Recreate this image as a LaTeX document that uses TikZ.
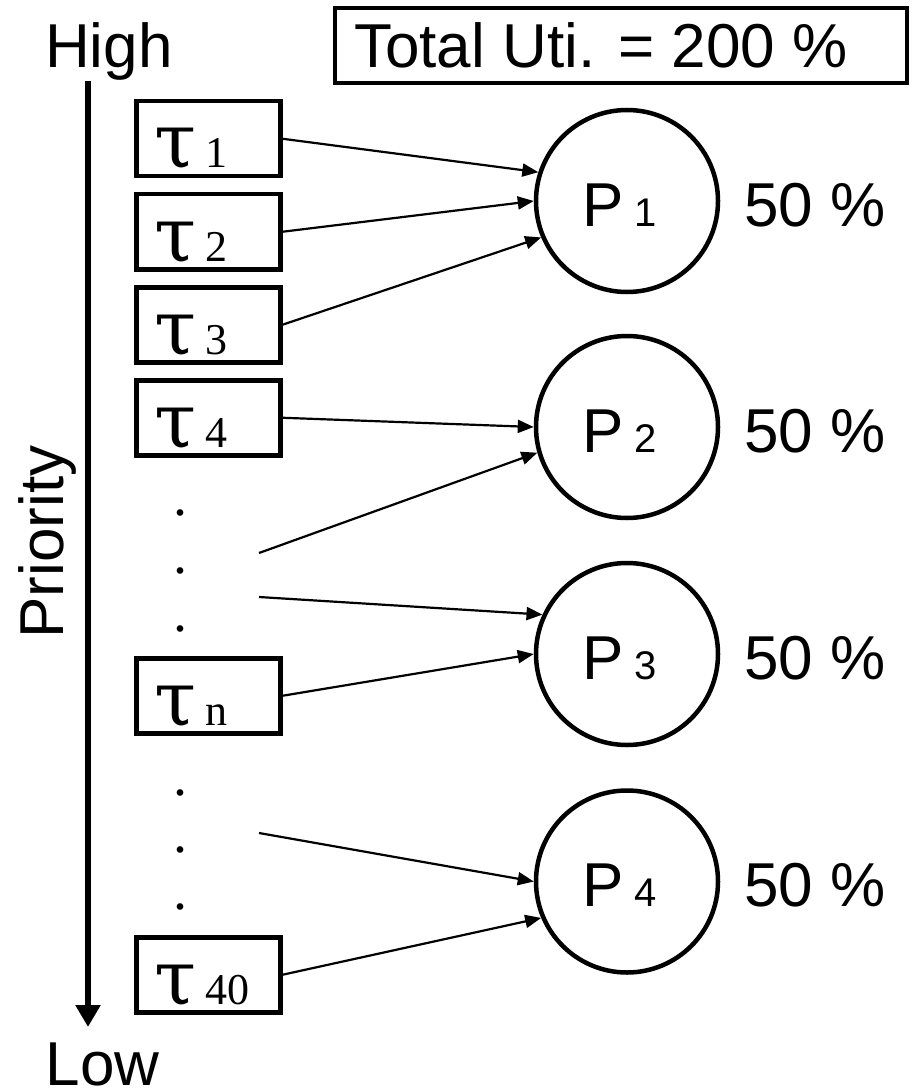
\documentclass[tikz,border=0pt]{standalone}
\usepackage{fontspec}
\setmainfont{Liberation Sans}
\newfontfamily\seriffont{Liberation Serif}
\newfontfamily\taufont{DejaVu Serif}
\usetikzlibrary{arrows.meta}
\begin{document}
\begin{tikzpicture}[x=1pt,y=-1pt,
  big/.style={font=\fontsize{62}{70}\selectfont, inner sep=0pt},
  taskbox/.style={draw, line width=4.5pt, minimum width=144pt, minimum height=75pt, inner sep=0pt, anchor=north west},
  tasklabel/.style={inner sep=0pt, anchor=base west, font=\seriffont},
  proc/.style={draw, circle, line width=4.5pt, minimum size=182pt, inner sep=0pt},
  conn/.style={line width=2.2pt, -{Triangle[length=16pt,width=13pt]}},
  dotmark/.style={inner sep=0pt, anchor=base, font=\seriffont\fontsize{56}{60}\selectfont}
]
\useasboundingbox (0,0) rectangle (913,1091);

% priority axis
\node[big, anchor=base west] (high) at (45,68) {High};
\node[big, anchor=base west, text depth=0pt] (low) at (45.5,1085) {Low};
\node[big, rotate=90, anchor=base] (prio) at (63,542) {Priority};
\coordinate (ptop) at (88,81);
\coordinate (pbot) at (88,1027);
\draw[line width=6.5pt, -{Triangle[length=22pt,width=24pt]}] (ptop) -- (pbot);

% total utilisation
\node[draw, line width=4pt, minimum width=572pt, minimum height=75pt, inner sep=0pt, anchor=north west] (total) at (333,6) {};
\node[big, anchor=base west] (totaltext) at (354,68) {Total Uti. = 200 \%};

% tasks
\newcommand{\tasktext}[1]{\makebox[51pt][l]{\taufont\fontsize{76}{76}\selectfont τ}{\fontsize{44}{48}\selectfont #1}}
\node[taskbox] (t1) at (134,99) {};
\node[taskbox] (t2) at (134,192) {};
\node[taskbox] (t3) at (134,285) {};
\node[taskbox] (t4) at (134,378) {};
\node[taskbox] (tn) at (134,656) {};
\node[taskbox] (t40) at (134,935) {};
\node[tasklabel] (l1) at (154,168) {\tasktext{1}};
\node[tasklabel] (l2) at (154,261) {\tasktext{2}};
\node[tasklabel] (l3) at (154,354) {\tasktext{3}};
\node[tasklabel] (l4) at (154,447) {\tasktext{4}};
\node[tasklabel] (ln) at (154,725) {\tasktext{n}};
\node[tasklabel] (l40) at (154,1004) {\tasktext{40}};

% dots
\node[dotmark] (da) at (180,515) {.};
\node[dotmark] (db) at (180,573) {.};
\node[dotmark] (dc) at (180,631) {.};
\node[dotmark] (dd) at (180,795) {.};
\node[dotmark] (de) at (180,852) {.};
\node[dotmark] (df) at (180,909) {.};

% processors
\node[proc] (P1) at (627,201) {};
\node[proc] (P2) at (627,427) {};
\node[proc] (P3) at (627,654) {};
\node[proc] (P4) at (627,881.5) {};
\node[big, anchor=base west] (P1t) at (582,226) {P{\fontsize{40}{44}\selectfont\ 1}};
\node[big, anchor=base west] (P2t) at (582,452) {P{\fontsize{40}{44}\selectfont\ 2}};
\node[big, anchor=base west] (P3t) at (582,679) {P{\fontsize{40}{44}\selectfont\ 3}};
\node[big, anchor=base west] (P4t) at (582,906.5) {P{\fontsize{40}{44}\selectfont\ 4}};
\node[big, anchor=base west] (u1) at (744,226) {50 \%};
\node[big, anchor=base west] (u2) at (744,452) {50 \%};
\node[big, anchor=base west] (u3) at (744,679) {50 \%};
\node[big, anchor=base west] (u4) at (744,906.5) {50 \%};

% connectors
\coordinate (f1) at (259,553);
\coordinate (f2) at (259,597);
\coordinate (f3) at (259,833);
\draw[conn] (t1.east) -- (P1.162);
\draw[conn] (t2.east) -- (P1.180);
\draw[conn] (t3.east) -- (P1.203);
\draw[conn] (t4.east) -- (P2.180);
\draw[conn] (f1) -- (P2.196);
\draw[conn] (f2) -- (P3.155);
\draw[conn] (tn.east) -- (P3.180);
\draw[conn] (f3) -- (P4.180);
\draw[conn] (t40.east) -- (P4.203);
\end{tikzpicture}
\end{document}
